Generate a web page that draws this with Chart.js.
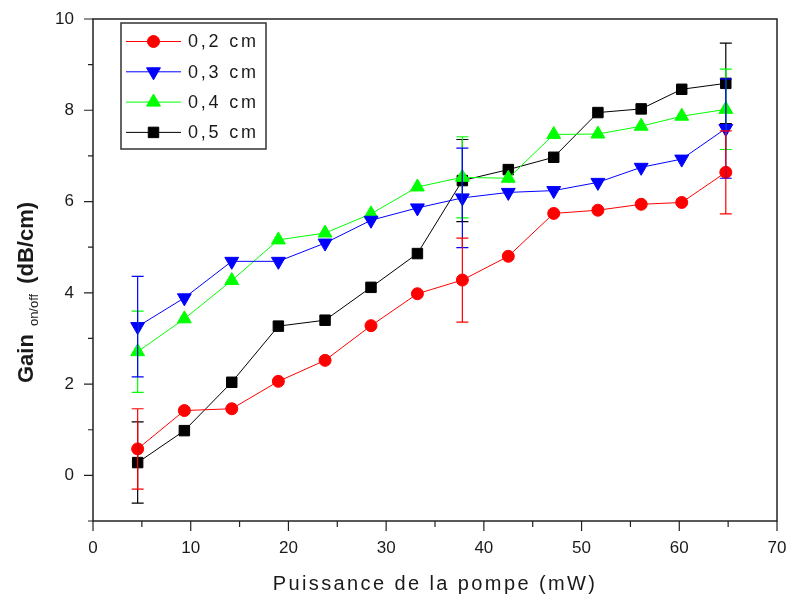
<!DOCTYPE html>
<html>
<head>
<meta charset="utf-8">
<title>Gain on/off</title>
<script src="https://cdn.jsdelivr.net/npm/chart.js@4.4.0/dist/chart.umd.min.js"></script>
<style>
    html, body { margin: 0; padding: 0; background: #fff; }
    #wrap { width: 787px; height: 601px; }
</style>
</head>
<body>
<div id="wrap"><canvas id="gainChart" width="787" height="601"></canvas></div>
<script>
// Data
const power = [4.57, 9.35, 14.2, 18.97, 23.75, 28.45, 33.2, 37.8, 42.5, 47.15, 51.67, 56.1, 60.25, 64.76];

const gain02 = [0.58, 1.42, 1.46, 2.06, 2.52, 3.28, 3.98, 4.28, 4.80, 5.74, 5.81, 5.94, 5.98, 6.64];
const gain03 = [3.26, 3.89, 4.69, 4.69, 5.09, 5.59, 5.86, 6.08, 6.20, 6.24, 6.42, 6.75, 6.93, 7.60];
const gain04 = [2.71, 3.43, 4.27, 5.16, 5.31, 5.73, 6.32, 6.53, 6.51, 7.47, 7.48, 7.65, 7.87, 8.02];
const gain05 = [0.28, 0.98, 2.04, 3.27, 3.40, 4.12, 4.86, 6.46, 6.70, 6.97, 7.95, 8.03, 8.46, 8.59];

// error bars only on a few points (null = no bar)
const err02 = [0.88, null, null, null, null, null, null, 0.92, null, null, null, null, null, 0.91];
const err03 = [1.10, null, null, null, null, null, null, 1.09, null, null, null, null, null, 1.09];
const err04 = [0.89, null, null, null, null, null, null, 0.89, null, null, null, null, null, 0.88];
const err05 = [0.89, null, null, null, null, null, null, 0.90, null, null, null, null, null, 0.88];

const seriesLabels = ['0,2 cm', '0,3 cm', '0,4 cm', '0,5 cm'];
const xTickLabels = [0, 10, 20, 30, 40, 50, 60, 70];
const yTickLabels = [0, 2, 4, 6, 8, 10];

const FONT = "'Liberation Sans', Arial, sans-serif";
const INK = '#1a1a1a';

Chart.defaults.font.family = FONT;
Chart.defaults.color = INK;

function toPoints(ys) {
    return ys.map((v, i) => ({ x: power[i], y: v }));
}

function makeSet(label, ys, errs, color, style, radius, rotation) {
    return {
        label: label,
        data: toPoints(ys),
        errors: errs,
        borderColor: color,
        backgroundColor: color,
        borderWidth: 1,
        pointStyle: style,
        pointRadius: radius,
        pointHoverRadius: radius,
        pointRotation: rotation,
        pointBorderWidth: 1,
        tension: 0
    };
}

// Error bars drawn with the y scale
const errorBars = {
    id: 'errorBars',
    afterDatasetsDraw(chart) {
        const { ctx, scales: { y } } = chart;
        ctx.save();
        ctx.lineWidth = 1.2;
        for (let d = chart.data.datasets.length - 1; d >= 0; d--) {
            const ds = chart.data.datasets[d];
            const meta = chart.getDatasetMeta(d);
            ctx.strokeStyle = ds.borderColor;
            ds.errors.forEach((e, i) => {
                if (e == null) return;
                const px = meta.data[i].x;
                const v = ds.data[i].y;
                const top = y.getPixelForValue(v + e);
                const bot = y.getPixelForValue(v - e);
                ctx.beginPath();
                ctx.moveTo(px, top); ctx.lineTo(px, bot);
                ctx.moveTo(px - 6, top); ctx.lineTo(px + 6, top);
                ctx.moveTo(px - 6, bot); ctx.lineTo(px + 6, bot);
                ctx.stroke();
            });
        }
        ctx.restore();
    }
};

// Box frame, tick marks, legend and axis titles
const decorations = {
    id: 'decorations',
    afterDraw(chart) {
        const { ctx, chartArea: a, scales: { x, y } } = chart;
        ctx.save();

        // frame
        ctx.strokeStyle = '#222';
        ctx.lineWidth = 1.5;
        ctx.strokeRect(a.left, a.top, a.right - a.left, a.bottom - a.top);

        // ticks (major longer than minor)
        ctx.lineWidth = 1.2;
        ctx.beginPath();
        x.ticks.forEach(t => {
            const px = x.getPixelForValue(t.value);
            const len = t.value % 10 === 0 ? 10 : 6;
            ctx.moveTo(px, a.bottom);
            ctx.lineTo(px, a.bottom + len);
        });
        y.ticks.forEach(t => {
            const py = y.getPixelForValue(t.value);
            const len = t.value % 2 === 0 ? 9 : 5;
            ctx.moveTo(a.left, py);
            ctx.lineTo(a.left - len, py);
        });
        ctx.stroke();

        // legend
        const lx = 121, ly = 23, lw = 145, lh = 126;
        ctx.fillStyle = '#fff';
        ctx.fillRect(lx, ly, lw, lh);
        ctx.strokeStyle = '#333';
        ctx.lineWidth = 1.5;
        ctx.strokeRect(lx, ly, lw, lh);
        chart.data.datasets.forEach((ds, i) => {
            const cy = 41.5 + i * 30.3;
            ctx.strokeStyle = ds.borderColor;
            ctx.fillStyle = ds.backgroundColor;
            ctx.lineWidth = 1;
            ctx.beginPath();
            ctx.moveTo(126, cy); ctx.lineTo(181, cy);
            ctx.stroke();
            Chart.helpers.drawPoint(ctx, {
                pointStyle: ds.pointStyle,
                radius: ds.pointRadius,
                rotation: ds.pointRotation,
                borderWidth: 1
            }, 153.5, cy);
            ctx.fillStyle = INK;
            ctx.font = '18px ' + FONT;
            ctx.letterSpacing = '2.8px';
            ctx.textAlign = 'left';
            ctx.textBaseline = 'middle';
            ctx.fillText(ds.label, 188, cy + 1);
        });

        // x title
        ctx.fillStyle = INK;
        ctx.font = '20px ' + FONT;
        ctx.letterSpacing = '2.4px';
        ctx.textAlign = 'center';
        ctx.textBaseline = 'alphabetic';
        ctx.fillText('Puissance de la pompe (mW)', (a.left + a.right) / 2, 590);
        ctx.letterSpacing = '0px';

        // y title with subscript
        ctx.translate(33, 383);
        ctx.rotate(-Math.PI / 2);
        ctx.textAlign = 'left';
        ctx.font = 'bold 22px ' + FONT;
        ctx.fillText('Gain', 0, 0);
        const x1 = ctx.measureText('Gain').width + 8;
        ctx.font = '13px ' + FONT;
        ctx.fillText('on/off', x1, 5);
        const x2 = x1 + ctx.measureText('on/off').width + 10;
        ctx.font = 'bold 22px ' + FONT;
        ctx.fillText('(dB/cm)', x2, 0);

        ctx.restore();
    }
};

new Chart(document.getElementById('gainChart'), {
    type: 'line',
    data: {
        datasets: [
            makeSet(seriesLabels[0], gain02, err02, '#ff0000', 'circle', 6, 0),
            makeSet(seriesLabels[1], gain03, err03, '#0000ff', 'triangle', 8, 180),
            makeSet(seriesLabels[2], gain04, err04, '#00ff00', 'triangle', 8, 0),
            makeSet(seriesLabels[3], gain05, err05, '#000000', 'rect', 7.4, 0)
        ]
    },
    options: {
        responsive: false,
        animation: false,
        devicePixelRatio: 1,
        layout: { padding: { left: 0, right: 10, top: 19, bottom: 0 } },
        plugins: {
            legend: { display: false },
            tooltip: { enabled: false }
        },
        scales: {
            x: {
                type: 'linear',
                min: 0,
                max: 70,
                grid: { display: false, drawTicks: false },
                border: { display: false },
                ticks: {
                    stepSize: 5,
                    autoSkip: false,
                    maxRotation: 0,
                    padding: 17,
                    font: { size: 17 },
                    callback: v => xTickLabels.includes(v) ? String(v) : ''
                },
                afterFit: s => {
                    s.height = 80;
                    s.paddingLeft = 0;
                    s.paddingRight = 0;
                }
            },
            y: {
                min: -1,
                max: 10,
                grid: { display: false, drawTicks: false },
                border: { display: false },
                ticks: {
                    stepSize: 1,
                    autoSkip: false,
                    padding: 19,
                    font: { size: 17 },
                    callback: v => yTickLabels.includes(v) ? String(v) : ''
                },
                afterFit: s => {
                    s.width = 93;
                    s.paddingTop = 0;
                    s.paddingBottom = 0;
                }
            }
        }
    },
    plugins: [errorBars, decorations]
});
</script>
</body>
</html>
